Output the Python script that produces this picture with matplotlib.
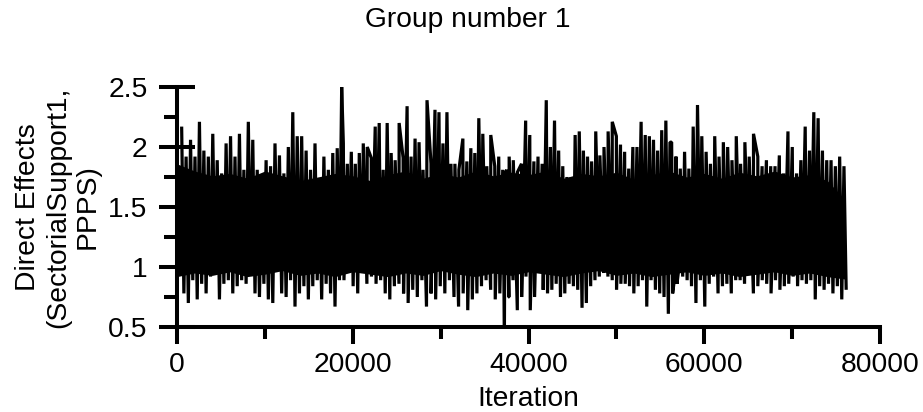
import numpy as np
import matplotlib
matplotlib.use("Agg")
import matplotlib.pyplot as plt

plt.rcParams['font.family'] = ['Liberation Sans', 'DejaVu Sans']

# ---- data (trace of an MCMC chain, peaks per ~500 iterations) ----
title = "Group number 1"
x_label = "Iteration"
y_label = "Direct Effects\n(SectorialSupport1,\nPPPS)"
x_ticks = [0, 20000, 40000, 60000, 80000]
y_ticks = [0.5, 1, 1.5, 2, 2.5]
y_tick_labels = ["0.5", "1", "1.5", "2", "2.5"]

# iteration ranges of the four read-off segments
seg_hi_ranges = [(530, 18740), (18930, 37520), (37330, 56100), (56290, 75900)]
seg_lo_ranges = [(530, 18740), (18740, 37520), (37500, 56650), (56290, 75900)]

hi_1 = [2.17, 1.92, 2.06, 1.92, 2.21, 1.97, 1.92, 2.11, 1.89, 1.78, 2.03, 2.09, 1.92,
        2.11, 1.81, 2.21, 2.06, 1.81, 1.72, 1.89, 1.84, 2.03, 1.93, 1.78, 2.00, 2.29,
        2.09, 2.09, 1.97, 1.81, 2.03, 1.70, 1.92, 1.81, 1.95, 1.99, 2.50]
hi_2 = [2.03, 1.86, 1.96, 1.86, 1.95, 2.03, 2.00, 1.91, 2.17, 2.20, 1.81, 2.20, 1.95,
        1.89, 2.20, 1.91, 2.34, 1.92, 2.07, 2.04, 1.81, 2.39, 1.86, 2.31, 2.29, 2.03,
        2.29, 1.86, 1.86, 1.81, 2.07, 1.88, 1.99, 1.95, 2.24, 2.11, 1.84, 2.10, 1.84,
        1.92, 1.81, 1.81]
hi_3 = [1.78, 1.92, 1.89, 1.79, 1.86, 2.22, 2.10, 1.88, 1.92, 1.86, 2.39, 2.00, 2.22,
        1.97, 1.84, 1.75, 1.75, 2.10, 2.13, 1.97, 1.92, 1.88, 2.13, 1.93, 2.00, 2.13,
        2.21, 2.09, 2.02, 1.96, 1.82, 2.00, 2.00, 2.21, 2.10, 2.09, 2.06, 1.97, 2.14,
        2.22, 2.04]
hi_4 = [2.04, 1.92, 1.82, 1.96, 1.82, 2.17, 2.35, 2.09, 1.96, 1.86, 2.09, 1.92, 2.04,
        2.00, 1.89, 2.09, 1.86, 2.04, 1.92, 2.11, 1.92, 1.84, 1.89, 1.84, 1.84, 1.93,
        1.78, 2.13, 2.00, 1.78, 1.89, 2.17, 1.97, 2.29, 2.24, 1.97, 1.89, 1.89, 1.84,
        1.92, 1.84]

lo_1 = [0.78, 0.70, 0.89, 0.73, 0.86, 0.78, 0.92, 0.97, 0.73, 0.86, 0.89, 0.78, 0.84,
        0.89, 0.86, 0.95, 0.78, 0.75, 0.86, 0.73, 0.70, 1.00, 0.78, 0.75, 0.89, 0.67,
        0.78, 0.84, 0.73, 0.84, 0.89, 0.73, 0.86, 0.78, 0.67, 0.89, 0.89]
lo_2 = [0.89, 0.97, 0.84, 0.78, 0.95, 0.86, 0.92, 0.86, 0.89, 0.78, 0.73, 0.84, 0.86,
        0.78, 0.70, 0.81, 0.75, 0.89, 0.67, 0.78, 0.73, 0.84, 0.78, 0.89, 0.75, 0.67,
        0.78, 0.64, 0.73, 0.78, 0.84, 0.89, 0.81, 0.73, 0.78, 0.50, 0.75]
lo_3 = [0.75, 0.89, 0.64, 0.75, 0.92, 0.64, 0.75, 0.95, 0.81, 0.78, 0.81, 0.86, 0.75,
        0.78, 0.86, 0.84, 0.81, 0.66, 0.70, 0.84, 0.89, 0.92, 0.95, 0.92, 0.89, 0.81,
        0.86, 0.86, 0.84, 0.78, 0.84, 0.89, 0.67, 0.89, 0.81, 0.78, 0.75, 0.61, 0.78,
        0.86]
lo_4 = [0.86, 0.95, 0.92, 0.89, 0.84, 0.70, 0.89, 0.67, 0.86, 0.92, 0.78, 0.84, 0.86,
        0.78, 0.89, 0.89, 0.86, 0.97, 0.78, 0.84, 0.89, 0.86, 0.78, 0.89, 0.81, 0.84,
        0.86, 0.92, 0.84, 0.89, 0.86, 0.89, 0.73, 0.84, 0.81, 0.86, 0.78, 0.84, 0.73,
        0.81]

# edges of the densely filled central band (valleys between spikes), every 2000 iterations
core_iter = list(range(0, 76001, 2000))
core_hi = [1.86, 1.80, 1.76, 1.78, 1.74, 1.80, 1.76, 1.72, 1.75, 1.78, 1.76, 1.72, 1.77,
           1.80, 1.74, 1.78, 1.75, 1.80, 1.76, 1.79, 1.77, 1.80, 1.74, 1.78, 1.76, 1.79,
           1.73, 1.77, 1.80, 1.75, 1.78, 1.74, 1.79, 1.76, 1.80, 1.75, 1.77, 1.72, 1.56]
core_lo = [0.92, 0.95, 0.93, 0.96, 0.92, 0.94, 0.97, 0.93, 0.95, 0.92, 0.96, 0.94, 0.92,
           0.95, 0.93, 0.97, 0.94, 0.92, 0.95, 0.93, 0.96, 0.94, 0.92, 0.95, 0.97, 0.93,
           0.95, 0.92, 0.94, 0.96, 0.93, 0.95, 0.92, 0.94, 0.96, 0.93, 0.95, 0.92, 0.90]

# ---- build the trace ----
hi_lists = [hi_1, hi_2, hi_3, hi_4]
lo_lists = [lo_1, lo_2, lo_3, lo_4]
xs, ys = [], []
for (a, b), vals in zip(seg_hi_ranges, hi_lists):
    xs.append(np.linspace(a, b, len(vals)))
    ys.append(np.array(vals))
for (a, b), vals in zip(seg_lo_ranges, lo_lists):
    step = (b - a) / max(len(vals) - 1, 1)
    xs.append(np.linspace(a, b, len(vals)) + step / 2)
    ys.append(np.array(vals))
xs = np.concatenate(xs)
ys = np.concatenate(ys)
order = np.argsort(xs, kind="stable")
trace_x = xs[order]
trace_y = ys[order]

# ---- figure ----
W, H, DPI = 923, 412, 100
FS = 20.3
fig = plt.figure(figsize=(W / DPI, H / DPI), dpi=DPI)
ax = fig.add_axes([177 / W, 1 - 327 / H, (880 - 177) / W, (327 - 87) / H])

ax.fill_between(core_iter, core_lo, core_hi, color="black", lw=0)
ax.plot(trace_x, trace_y, color="black", lw=2.3, solid_joinstyle="bevel",
        solid_capstyle="butt")

ax.set_xlim(0, 80000)
ax.set_ylim(0.5, 2.5)

for s in ["top", "right"]:
    ax.spines[s].set_visible(False)
for s in ["left", "bottom"]:
    ax.spines[s].set_linewidth(2.9)
    ax.spines[s].set_capstyle("projecting")

ax.set_xticks(x_ticks)
ax.set_xticklabels([str(t) for t in x_ticks])
ax.set_xticks([10000, 30000, 50000, 70000], minor=True)
ax.set_yticks(y_ticks)
ax.set_yticklabels(y_tick_labels)
ax.set_yticks([0.75, 1.25, 1.75, 2.25], minor=True)

ax.tick_params(axis="x", which="major", direction="out", length=12, width=2.9,
               labelsize=FS, pad=6)
ax.tick_params(axis="x", which="minor", direction="out", length=8.4, width=2.9)
ax.tick_params(axis="y", which="major", direction="inout", length=26.5, width=2.9,
               labelsize=FS, pad=8)
ax.tick_params(axis="y", which="minor", direction="out", length=9.6, width=2.9)

ax.set_xlabel(x_label, fontsize=FS)
ax.xaxis.set_label_coords(0.5, -(412 - 327) / (327 - 87))
ax.xaxis.label.set_va("bottom")

ax.set_ylabel(y_label, fontsize=FS, linespacing=1.2)
ax.yaxis.set_label_coords((101 - 177) / (880 - 177), 0.5)

fig.text(468 / W, 1 - 20 / H, title, fontsize=FS, ha="center", va="center")

fig.savefig("out.png", dpi=DPI)
